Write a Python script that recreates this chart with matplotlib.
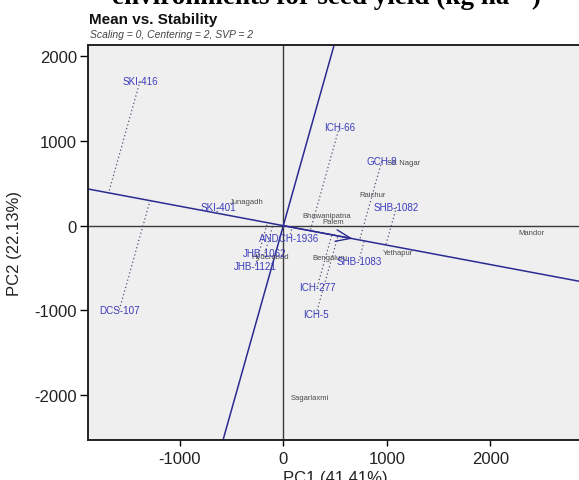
import numpy as np
import matplotlib
matplotlib.use("Agg")
import matplotlib.pyplot as plt

plt.rcParams["font.family"] = ["Liberation Sans", "DejaVu Sans"]
plt.rcParams["axes.unicode_minus"] = False

# Genotype scores (PC1, PC2)
genotypes = ["SKI-416", "SKI-401", "ICH-66", "GCH-8", "SHB-1082", "ANDCH-1936",
             "JHB-1062", "JHB-1121", "SHB-1083", "ICH-277", "ICH-5", "DCS-107"]
g_pc1 = [-1384, -628, 541, 951, 1094, 57, -177, -270, 729, 327, 316, -1584]
g_pc2 = [1710, 217, 1163, 761, 221, -145, -325, -473, -414, -728, -1047, -993]

# Environment scores (PC1, PC2)
environments = ["Junagadh", "Bhawanipatna", "Palem", "Raichur", "SK Nagar",
                "Yethapur", "Mandor", "Bengaluru", "Hyderabad", "Sagarlaxmi"]
e_pc1 = [-354, 415, 485, 860, 1166, 1108, 2400, 451, -128, 258]
e_pc2 = [288, 123, 44, 366, 741, -314, -86, -376, -370, -2028]

# Average environment coordinate (arrow tip on the AEA)
aec = (670, -154)

x_ticks = [-1000, 0, 1000, 2000]
y_ticks = [-2000, -1000, 0, 1000, 2000]

W, H = 579, 481
fig = plt.figure(figsize=(W / 100, H / 100), dpi=100)
ax = fig.add_axes([88 / W, (H - 441.3) / H, (584 - 88) / W, (441.3 - 46.3) / H])
ax.set_facecolor("#efefef")
ax.set_xlim(-1887, 2905)
ax.set_ylim(-2537, 2132)

line_col = "#2b2b92"
geno_col = "#3c3cbc"
env_col = "#4a4a4a"

# reference axes through the origin
ax.axhline(0, color="#3a3a3a", lw=1.0, zorder=1)
ax.axvline(0, color="#3a3a3a", lw=1.0, zorder=1)

# average environment axis and its perpendicular
ax.axline((0, 0), aec, color=line_col, lw=1.1, zorder=2)
ax.axline((0, 0), (-aec[1], aec[0]), color=line_col, lw=1.1, zorder=2)
ax.annotate("", xy=aec, xytext=(0, 0),
            arrowprops=dict(arrowstyle="->,head_length=0.9,head_width=0.35",
                            color=line_col, lw=1.0, mutation_scale=12,
                            shrinkA=0, shrinkB=0), zorder=3)

# projections of genotypes onto the AEA
d = np.array(aec, dtype=float)
d /= np.linalg.norm(d)
for x, y in zip(g_pc1, g_pc2):
    t = x * d[0] + y * d[1]
    ax.plot([x, t * d[0]], [y, t * d[1]], color="#55557a", lw=0.9,
            linestyle=(0, (1, 2)), zorder=2)

for name, x, y in zip(environments, e_pc1, e_pc2):
    ax.text(x, y, name, fontsize=5.5, color=env_col, ha="center", va="center", zorder=4)

for name, x, y in zip(genotypes, g_pc1, g_pc2):
    ax.text(x, y, name, fontsize=7.1, color=geno_col, ha="center", va="center", zorder=5)

ax.set_xticks(x_ticks)
ax.set_yticks(y_ticks)
ax.tick_params(axis="x", direction="out", length=4.5, width=1, pad=3,
               labelsize=12, labelcolor="#222222")
ax.tick_params(axis="y", direction="out", length=5.5, width=1, pad=2.5,
               labelsize=12, labelcolor="#222222")
for s in ax.spines.values():
    s.set_linewidth(1.4)
    s.set_color("#222222")

fig.text(335 / W, (H - 483) / H, "PC1 (41.41%)", fontsize=12, ha="center",
         va="baseline", color="#222222")
fig.text(15 / W, (H - 243) / H, "PC2 (22.13%)", fontsize=12, rotation=90,
         ha="center", va="center", color="#222222")

fig.text(89 / W, 1 - 20 / H, "Mean vs. Stability", fontsize=11, fontweight="bold",
         ha="left", va="center", color="#111111")
fig.text(90 / W, 1 - 34.5 / H, "Scaling = 0, Centering = 2, SVP = 2", fontsize=7.5,
         style="italic", ha="left", va="center", color="#444444")

fig.text(327 / W, 1 - 4 / H, "environments for seed yield (kg ha\u207b\u00b9)",
         family=["Liberation Serif", "DejaVu Serif"], fontsize=19.5,
         fontweight="bold", ha="center", va="baseline", color="black")

fig.savefig("out.png", dpi=100)
